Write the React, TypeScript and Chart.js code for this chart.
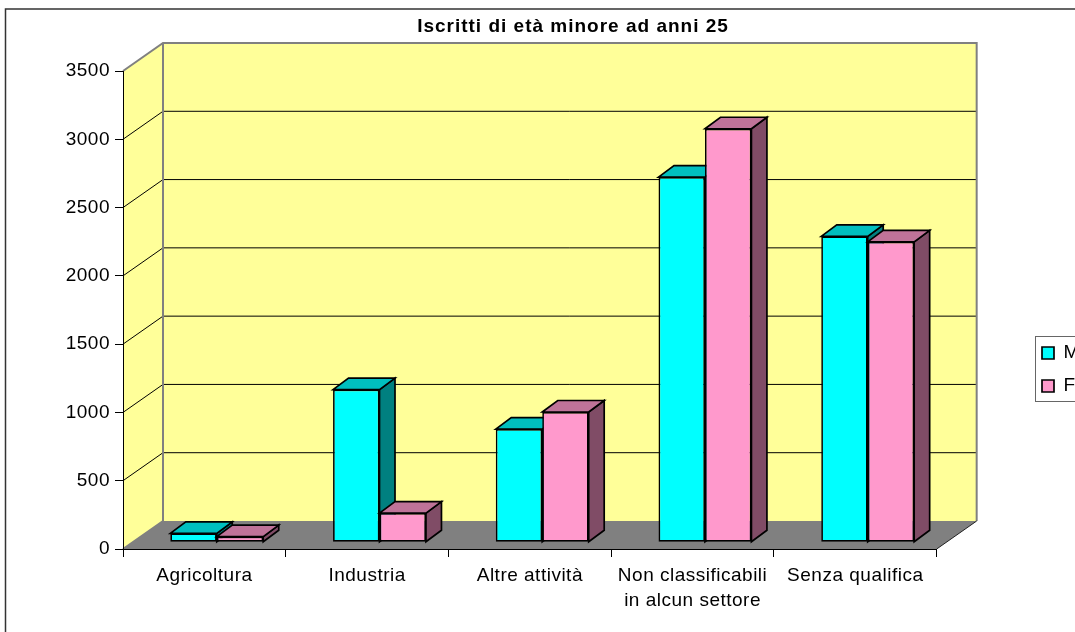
import React, { useEffect, useRef } from "react";
import { Chart, registerables } from "chart.js";

Chart.register(...registerables);

const categories = [
  "Agricoltura",
  "Industria",
  "Altre attività",
  ["Non classificabili", "in alcun settore"],
  "Senza qualifica",
];
const maleValues = [65, 1118, 829, 2674, 2240];
const femaleValues = [42, 214, 954, 3028, 2200];
const titleText = "Iscritti di età minore ad anni 25";
const FONT = "'Liberation Sans', Arial, sans-serif";
const FS = 19;

const WALL_DX = 40;
const WALL_DY = -28;
const BAR_DX = 12.4;
const BAR_DY = -6.7;
const DEPTH_DX = 15.5;
const DEPTH_DY = -11.5;

const sideColors = ["#008080", "#804C66"];
const topColors = ["#00BFBF", "#BF7399"];

function poly(ctx: CanvasRenderingContext2D, pts: number[][], fill?: string, stroke?: string, lw = 1) {
  ctx.beginPath();
  pts.forEach((p, i) => (i ? ctx.lineTo(p[0], p[1]) : ctx.moveTo(p[0], p[1])));
  ctx.closePath();
  if (fill) {
    ctx.fillStyle = fill;
    ctx.fill();
  }
  if (stroke) {
    ctx.strokeStyle = stroke;
    ctx.lineWidth = lw;
    ctx.stroke();
  }
}

const scene3d = {
  id: "scene3d",
  afterLayout(chart: any) {
    const t = chart.titleBlock;
    if (t) {
      t.left = 573 - 500;
      t.right = 573 + 500;
      if (!t._spaced) {
        t._spaced = true;
        const orig = t.draw;
        t.draw = function (...args: any[]) {
          const c = chart.ctx as any;
          const prev = c.letterSpacing;
          c.letterSpacing = "1px";
          orig.apply(t, args);
          c.letterSpacing = prev;
        };
      }
    }
    const l = chart.legend;
    if (l) {
      l.left = 1028;
      l.right = 1028 + 200;
      l.top = 329.5;
      l.bottom = 629;
    }
  },
  beforeDraw(chart: any) {
    const { ctx, chartArea: a, scales } = chart;
    const y = scales.y;
    (ctx as any).letterSpacing = "0.5px";
    ctx.save();
    ctx.fillStyle = "#fff";
    ctx.fillRect(0, 0, chart.width, chart.height);
    ctx.strokeStyle = "#333";
    ctx.lineWidth = 1.5;
    ctx.strokeRect(5.5, 9, 1300, 900);

    const L = a.left;
    const R = a.right;
    const T = a.top;
    const B = a.bottom;
    // floor
    poly(ctx, [[L, B], [R, B], [R + WALL_DX, B + WALL_DY], [L + WALL_DX, B + WALL_DY]], "#808080");
    // side wall
    poly(ctx, [[L, T], [L + WALL_DX, T + WALL_DY], [L + WALL_DX, B + WALL_DY], [L, B]], "#FFFF99");
    // back wall
    poly(ctx, [[L + WALL_DX, T + WALL_DY], [R + WALL_DX, T + WALL_DY], [R + WALL_DX, B + WALL_DY], [L + WALL_DX, B + WALL_DY]], "#FFFF99");

    // gridlines
    ctx.strokeStyle = "#000";
    ctx.lineWidth = 1;
    y.ticks.forEach((t: any) => {
      if (t.value === 0 || t.value === y.max) return;
      const py = y.getPixelForValue(t.value);
      ctx.beginPath();
      ctx.moveTo(L, py);
      ctx.lineTo(L + WALL_DX, py + WALL_DY);
      ctx.lineTo(R + WALL_DX, py + WALL_DY);
      ctx.stroke();
    });

    // wall outlines
    ctx.strokeStyle = "#808080";
    ctx.lineWidth = 2;
    ctx.beginPath();
    ctx.moveTo(L, T);
    ctx.lineTo(L + WALL_DX, T + WALL_DY);
    ctx.lineTo(R + WALL_DX, T + WALL_DY);
    ctx.lineTo(R + WALL_DX, B + WALL_DY);
    ctx.moveTo(L + WALL_DX, T + WALL_DY);
    ctx.lineTo(L + WALL_DX, B + WALL_DY);
    ctx.lineTo(L, B);
    ctx.stroke();
    ctx.strokeStyle = "#222";
    ctx.lineWidth = 1;
    ctx.beginPath();
    ctx.moveTo(R, B);
    ctx.lineTo(R + WALL_DX, B + WALL_DY);
    ctx.stroke();

    // legend frame
    const l = chart.legend;
    ctx.strokeStyle = "#666";
    ctx.lineWidth = 1;
    ctx.strokeRect(l.left + 7.5, Math.round(l.top) + 6.5, 200, 65);
    ctx.restore();
  },
  beforeDatasetsDraw(chart: any) {
    const { ctx } = chart;
    chart.data.datasets.forEach((_: any, i: number) => {
      const meta = chart.getDatasetMeta(i);
      ctx.save();
      ctx.translate(BAR_DX, BAR_DY);
      ctx.lineJoin = "miter";
      meta.data.forEach((el: any) => {
        const { x, y, base, width } = el.getProps(["x", "y", "base", "width"], true);
        const l = x - width / 2;
        const r = x + width / 2;
        poly(ctx, [[r, y], [r + DEPTH_DX, y + DEPTH_DY], [r + DEPTH_DX, base + DEPTH_DY], [r, base]], sideColors[i], "#000", 1.7);
        poly(ctx, [[l, y], [l + DEPTH_DX, y + DEPTH_DY], [r + DEPTH_DX, y + DEPTH_DY], [r, y]], topColors[i], "#000", 1.7);
      });
      meta.controller.draw();
      ctx.restore();
    });
    return false;
  },
};

export default function App() {
  const ref = useRef<HTMLCanvasElement>(null);
  useEffect(() => {
    const chart = new Chart(ref.current!, {
      type: "bar",
      data: {
        labels: categories as any,
        datasets: [
          { label: "M", data: maleValues, backgroundColor: "#00FFFF", borderColor: "#000", borderWidth: 1.7, borderSkipped: false },
          { label: "F", data: femaleValues, backgroundColor: "#FF99CC", borderColor: "#000", borderWidth: 1.7, borderSkipped: false },
        ],
      },
      options: {
        animation: false,
        responsive: false,
        layout: { padding: { left: 0, top: 0, bottom: 0, right: 77 } },
        datasets: { bar: { categoryPercentage: 0.571, barPercentage: 1 } },
        plugins: {
          tooltip: { enabled: false },
          title: {
            display: true,
            text: titleText,
            color: "#000",
            font: { family: FONT, size: 19, weight: "bold", lineHeight: 1.2 },
            padding: { top: 15.5, bottom: 32.7 },
          },
          legend: {
            display: true,
            position: "right",
            align: "start",
            labels: {
              boxWidth: 12,
              boxHeight: 12,
              padding: 14,
              color: "#000",
              font: { family: FONT, size: FS },
            },
          },
        },
        scales: {
          x: {
            afterFit: (s: any) => {
              s.height = 83;
            },
            grid: { drawOnChartArea: false, drawTicks: true, tickLength: 8, color: "#000", offset: true },
            border: { display: true, color: "#000", width: 1 },
            ticks: {
              color: "#000",
              padding: 6,
              autoSkip: false,
              maxRotation: 0,
              minRotation: 0,
              font: { family: FONT, size: FS, lineHeight: 1.34 },
            },
          },
          y: {
            min: 0,
            max: 3500,
            afterFit: (s: any) => {
              s.width = 123;
            },
            grid: { drawOnChartArea: false, drawTicks: true, tickLength: 8, color: "#000" },
            border: { display: true, color: "#000", width: 1 },
            ticks: {
              stepSize: 500,
              color: "#000",
              padding: 5,
              font: { family: FONT, size: FS },
              callback: (v: any) => String(v),
            },
          },
        },
      },
      plugins: [scene3d as any],
    });
    return () => chart.destroy();
  }, []);
  return (
    <canvas
      ref={ref}
      width={1075}
      height={632}
      style={{ position: "fixed", left: 0, top: 0, display: "block" }}
    />
  );
}
